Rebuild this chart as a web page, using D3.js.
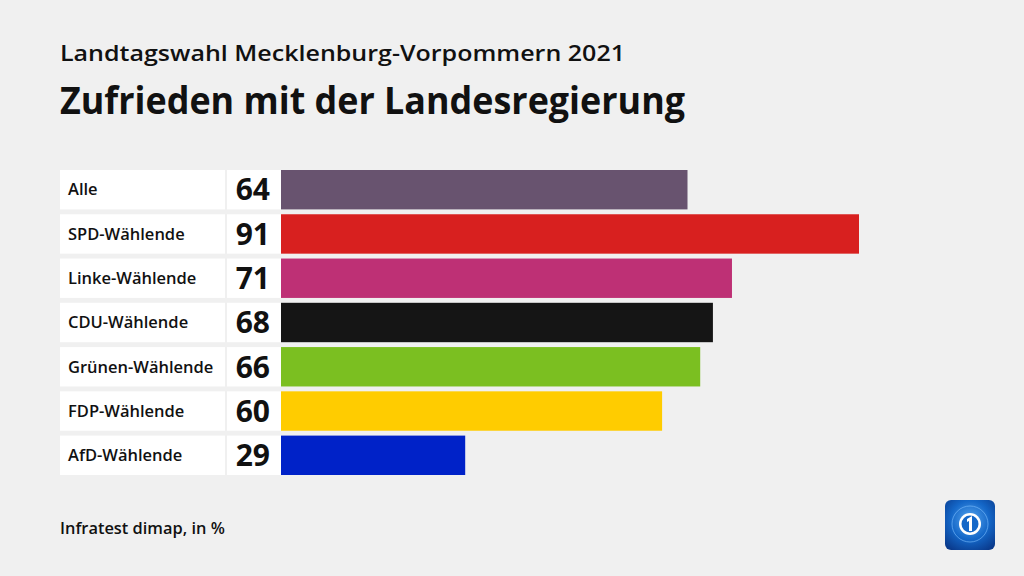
<!DOCTYPE html>
<html><head><meta charset="utf-8">
<script src="https://cdn.jsdelivr.net/npm/d3@7"></script>
<style>html,body{margin:0;padding:0;background:#f0f0f0;}svg{display:block;font-family:"Open Sans","Noto Sans",sans-serif;}</style>
</head><body>
<script>
const categories = ["Alle","SPD-Wählende","Linke-Wählende","CDU-Wählende","Grünen-Wählende","FDP-Wählende","AfD-Wählende"];
const values = [64,91,71,68,66,60,29];
const colors = ["#68536f","#d8201f","#be3075","#151515","#7bbf21","#ffcc00","#0022c8"];

const W=1024,H=576;
const svg=d3.select("body").append("svg").attr("width",W).attr("height",H);
svg.append("rect").attr("width",W).attr("height",H).attr("fill","#f0f0f0");

svg.append("text").attr("x",60).attr("y",61).attr("font-size",22).attr("font-weight",600)
  .attr("fill","#111").attr("textLength",565).attr("lengthAdjust","spacingAndGlyphs")
  .text("Landtagswahl Mecklenburg-Vorpommern 2021");
svg.append("text").attr("x",60).attr("y",114).attr("font-size",37).attr("font-weight",700)
  .attr("fill","#111").attr("textLength",625).attr("lengthAdjust","spacingAndGlyphs")
  .text("Zufrieden mit der Landesregierung");

const y=d3.scaleBand().domain(categories).range([170,475]).paddingInner(0.11).paddingOuter(0);
const x=d3.scaleLinear().domain([0,91]).range([281,859]);

const rows=svg.append("g").selectAll("g").data(categories).join("g");
rows.append("rect").attr("x",60).attr("y",d=>y(d)).attr("width",165).attr("height",y.bandwidth()).attr("fill","#fff");
rows.append("rect").attr("x",227).attr("y",d=>y(d)).attr("width",54).attr("height",y.bandwidth()).attr("fill","#fff");
rows.append("rect").attr("x",x(0)).attr("y",d=>y(d)).attr("width",(d,i)=>x(values[i])-x(0)).attr("height",y.bandwidth()).attr("fill",(d,i)=>colors[i]);
rows.append("text").attr("x",68).attr("y",d=>y(d)+y.bandwidth()/2).attr("dy","0.35em")
  .attr("font-size",16.5).attr("font-weight",600).attr("fill","#111").text(d=>d);
rows.append("text").attr("x",270).attr("y",d=>y(d)+y.bandwidth()/2).attr("dy","0.36em")
  .attr("text-anchor","end").attr("font-size",30).attr("font-weight",700).attr("fill","#111").text((d,i)=>values[i]);

svg.append("text").attr("x",60).attr("y",534).attr("font-size",16.4).attr("font-weight",600).attr("fill","#111").text("Infratest dimap, in %");

// logo
const defs=svg.append("defs");
const g=defs.append("radialGradient").attr("id","lg").attr("cx","50%").attr("cy","40%").attr("r","70%");
g.append("stop").attr("offset","0%").attr("stop-color","#5aa8f0");
g.append("stop").attr("offset","55%").attr("stop-color","#1467c8");
g.append("stop").attr("offset","100%").attr("stop-color","#0a3a8c");
const lg=svg.append("g").attr("transform","translate(945,500)");
lg.append("rect").attr("width",50).attr("height",50).attr("rx",6).attr("fill","url(#lg)");
lg.append("circle").attr("cx",25).attr("cy",24).attr("r",18).attr("fill","none").attr("stroke","#7fc0ff").attr("stroke-width",1).attr("opacity",0.6);
lg.append("circle").attr("cx",25).attr("cy",24).attr("r",11).attr("fill","#fff");
lg.append("circle").attr("cx",25).attr("cy",24).attr("r",8.5).attr("fill","#1467c8");
lg.append("path").attr("d","M22,19 L27,16 L27,31 L24,31 L24,21 L22,22 Z").attr("fill","#fff");
</script>
</body></html>
